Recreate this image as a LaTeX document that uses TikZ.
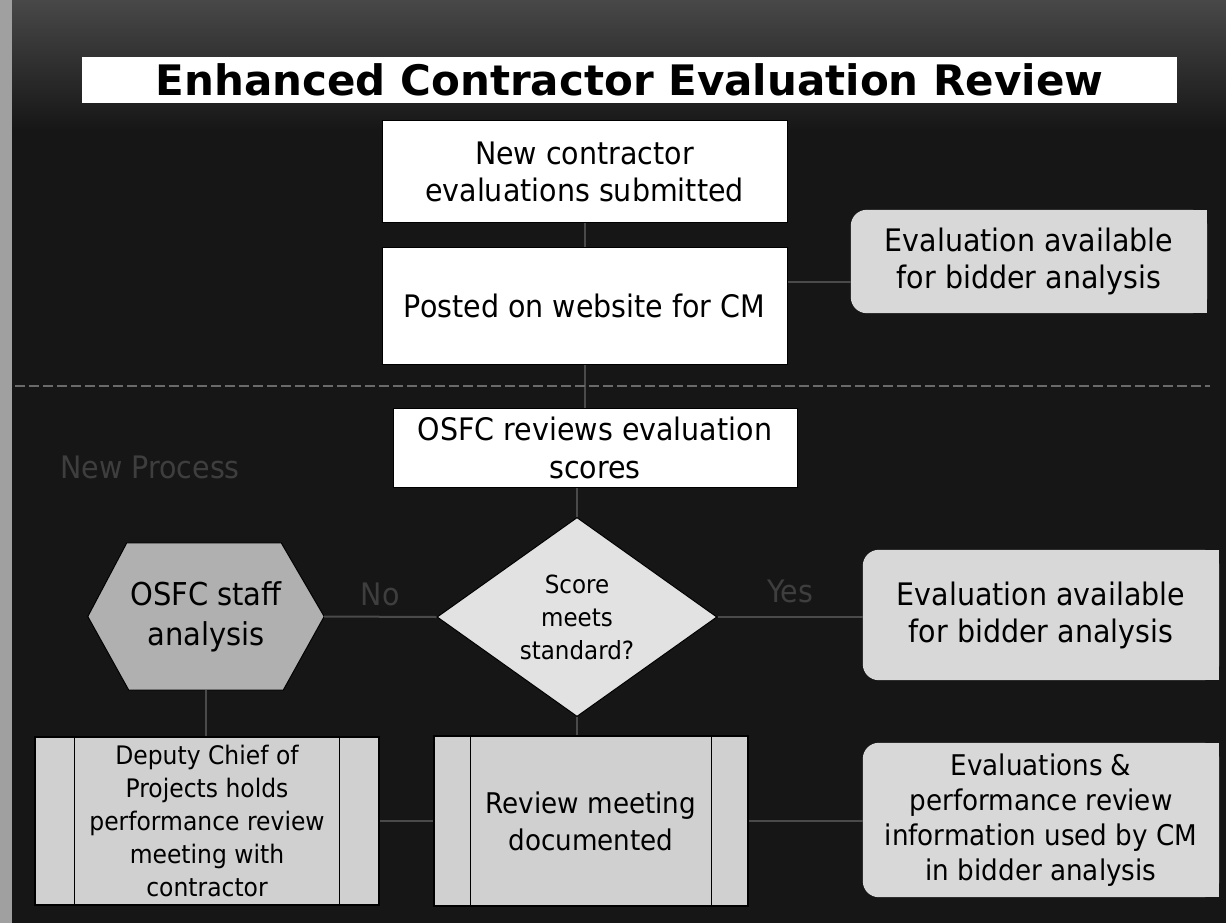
\documentclass[tikz,border=0pt]{standalone}
\usepackage{fontspec}
\setmainfont{DejaVu Sans}[FakeStretch=0.92]
\newfontfamily\titlefont{DejaVu Sans}
\usetikzlibrary{shapes.geometric,calc}
\pgfdeclarelayer{back}
\pgfdeclarelayer{mid}
\pgfsetlayers{back,mid,main}
\definecolor{bgdark}{HTML}{161616}
\definecolor{bgtop}{HTML}{484848}
\definecolor{edgecol}{HTML}{A0A0A0}
\definecolor{hexfill}{HTML}{B0B0B0}
\definecolor{diafill}{HTML}{E2E2E2}
\definecolor{procfill}{HTML}{D0D0D0}
\definecolor{endfill}{HTML}{D8D8D8}
\definecolor{linkcol}{HTML}{4A4A4A}
\definecolor{sepcol}{HTML}{6A6A6A}
\definecolor{faint}{HTML}{3E3E3E}
\newcommand\fsz[2]{\fontsize{#1}{#2}\selectfont}
\begin{document}
\begin{tikzpicture}[x=1pt,y=-1pt,
  wbox/.style={draw=black,line width=1pt,fill=white,inner sep=0pt,align=center,font=\fsz{31}{37}},
  endbox/.style={inner sep=0pt,align=center},
  procbox/.style={draw=black,line width=1.2pt,fill=procfill,inner sep=0pt,align=center},
  link/.style={draw=linkcol,line width=2pt},
  faintlbl/.style={text=faint,font=\fsz{31}{35}}
]
\useasboundingbox (0,0) rectangle (1226,923);
\begin{pgfonlayer}{back}
  \fill[bgdark] (0,0) rectangle (1226,923);
  \shade[top color=bgtop,bottom color=bgdark] (0,0) rectangle (1226,130);
  \fill[edgecol] (0,0) rectangle (12,923);
\end{pgfonlayer}

% title
\node[fill=white,inner sep=0pt,minimum width=1095,minimum height=46,font=\titlefont\bfseries\fsz{42}{46}] (t) at (629.5,80) {Enhanced Contractor Evaluation Review};

% old process
\node[wbox,minimum width=405,minimum height=101] (b1) at (584.5,171.5) {New contractor\\evaluations submitted};
\node[wbox,minimum width=405,minimum height=117] (b2) at (584.5,306) {Posted on website for CM};
\node[endbox,minimum width=356,minimum height=103,font=\fsz{31}{37}] (e1) at (1029,261.5) {Evaluation available\\for bidder analysis};

% separator
\coordinate (sepL) at (15,386);
\coordinate (sepR) at (1210,386);
\draw[draw=sepcol,line width=1.6pt,dash pattern=on 10pt off 4pt] (sepL) -- (sepR);

% new process
\node[faintlbl] (np) at (150,467) {New Process};
\node[wbox,minimum width=404,minimum height=79,font=\fsz{31}{38}] (osfc) at (595,447.5) {OSFC reviews evaluation\\scores};
\node[diamond,draw=black,line width=1pt,fill=diafill,inner sep=0pt,minimum width=280,minimum height=189,align=center,font=\fsz{25}{33}] (dia) at (577,617) {Score\\meets\\standard?};
\node[endbox,minimum width=236,minimum height=147,font=\fsz{31.5}{40}] (hex) at (206,616.5) {OSFC staff\\analysis};
\node[endbox,minimum width=356,minimum height=130,font=\fsz{31}{37}] (e2) at (1041,615) {Evaluation available\\for bidder analysis};
\node[procbox,minimum width=344,minimum height=168,font=\fsz{25.5}{33}] (dep) at (207,821) {Deputy Chief of\\Projects holds\\performance review\\meeting with\\contractor};
\node[procbox,minimum width=314,minimum height=170,font=\fsz{28.5}{37}] (rev) at (591,821) {Review meeting\\documented};
\node[endbox,minimum width=356,minimum height=154,font=\fsz{28.5}{35}] (e3) at (1041,820) {Evaluations \&\\performance review\\information used by CM\\in bidder analysis};

% inner lines of the process boxes
\foreach \n/\d in {dep/40,rev/37}{
  \draw[black,line width=1.2pt] ([xshift=\d pt]\n.north west) -- ([xshift=\d pt]\n.south west);
  \draw[black,line width=1.2pt] ([xshift=-\d pt]\n.north east) -- ([xshift=-\d pt]\n.south east);
}

% shapes behind the text-only nodes
\begin{pgfonlayer}{mid}
  \foreach \n in {e1,e2,e3}{
    \fill[endfill,rounded corners=16pt] (\n.north west) rectangle (\n.south east);
    \fill[endfill] (\n.north) rectangle (\n.south east);
  }
  \filldraw[fill=hexfill,draw=black,line width=1pt] (hex.west) -- ([xshift=39pt]hex.north west) -- ([xshift=-43pt]hex.north east) -- (hex.east) -- ([xshift=-41pt]hex.south east) -- ([xshift=41pt]hex.south west) -- cycle;
  % connectors
  \draw[link] (b1.south) -- (b2.north);
  \coordinate (c1) at ($(e1.west)+(0,20)$);
  \draw[link] (b2.east |- c1) -- (c1);
  \draw[link] (b2.south) -- (b2.south |- osfc.north);
  \draw[link] (dia.north |- osfc.south) -- (dia.north);
  \draw[link] (dia.west) -- node[faintlbl,above=6pt] (no) {No} (hex.east);
  \draw[link] (dia.east) -- node[faintlbl,above=10pt] (yes) {Yes} (dia.east -| e2.west);
  \draw[link] (dia.south) -- (dia.south |- rev.north);
  \draw[link] (hex.south) -- (hex.south |- dep.north);
  \draw[link] (dep.east |- rev.west) -- (rev.west);
  \draw[link] (rev.east) -- (rev.east -| e3.west);
\end{pgfonlayer}
\end{tikzpicture}
\end{document}
